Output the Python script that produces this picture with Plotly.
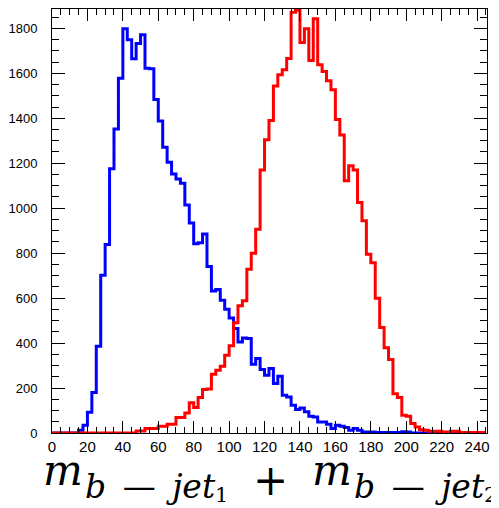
import plotly.graph_objects as go

# histogram binning: 98 bins of width 2.5 from 0 to 245
bin_width = 2.5
n_bins = 98

blue_counts = [
    0, 0, 0, 0, 0, 0, 12, 34, 92, 180,
    386, 702, 839, 1175, 1352, 1578, 1798, 1749, 1665, 1732,
    1772, 1622, 1620, 1484, 1388, 1271, 1204, 1152, 1130, 1111,
    1014, 934, 842, 846, 885, 741, 632, 638, 591, 550,
    512, 465, 405, 423, 420, 306, 331, 282, 257, 287,
    220, 252, 168, 160, 123, 104, 111, 94, 74, 71,
    49, 49, 39, 20, 34, 30, 24, 12, 20, 12,
    4, 4, 4, 2, 2, 2, 2, 2, 2, 6,
    4, 0, 0, 0, 0, 0, 0, 0, 0, 0,
    0, 0, 0, 0, 0, 0, 0, 0,
]

red_counts = [
    0, 0, 0, 0, 0, 0, 0, 0, 0, 0,
    0, 0, 0, 0, 0, 0, 0, 0, 0, 9,
    9, 20, 20, 20, 30, 30, 39, 39, 69, 69,
    89, 134, 113, 158, 193, 196, 261, 279, 297, 346,
    388, 490, 566, 588, 728, 799, 906, 1170, 1304, 1390,
    1544, 1593, 1616, 1666, 1872, 1880, 1737, 1798, 1657, 1843,
    1638, 1608, 1567, 1527, 1395, 1326, 1122, 1189, 1170, 1025,
    944, 795, 757, 599, 469, 379, 327, 175, 158, 79,
    74, 42, 27, 15, 12, 8, 8, 8, 4, 4,
    8, 8, 2, 2, 2, 2, 2, 2,
]

x_tick_vals = list(range(0, 241, 20))
y_tick_vals = list(range(0, 1801, 200))

edges = [i * bin_width for i in range(n_bins + 1)]


def step(counts):
    return edges, list(counts) + [counts[-1]]


fig = go.Figure()
for counts, color in [(blue_counts, "#0000ff"), (red_counts, "#ff0000")]:
    xs, ys = step(counts)
    fig.add_trace(go.Scatter(x=xs, y=ys, mode="lines", line_shape="hv",
                             line=dict(color=color, width=3), hoverinfo="skip"))

# the page body adds an 8 px margin, so the figure is drawn 8 px smaller
OFF = 8
W, H = 499 - OFF, 508 - OFF
L, T = 52 - OFF, 9 - OFF
R, B = 499 - 487, 508 - 433
pw, ph = W - L - R, H - T - B

xtickfont = dict(family="Liberation Sans, Arial, sans-serif", size=15, color="black")
ytickfont = dict(family="Liberation Sans, Arial, sans-serif", size=13, color="black")

fig.update_layout(
    width=W, height=H, showlegend=False,
    margin=dict(l=L, r=R, t=T, b=B, autoexpand=False),
    paper_bgcolor="white", plot_bgcolor="white",
    xaxis=dict(range=[0, 245.6], tickvals=x_tick_vals, ticks="inside", ticklen=12,
               tickwidth=1, tickcolor="black", showline=True, linecolor="black",
               linewidth=1, mirror="allticks", showgrid=False, zeroline=False,
               tickfont=xtickfont, automargin=False,
               minor=dict(dtick=5, ticks="inside", ticklen=6, tickwidth=1,
                          tickcolor="black", showgrid=False)),
    yaxis=dict(range=[0, 1886], tickvals=y_tick_vals, ticks="inside", ticklen=13,
               tickwidth=1, tickcolor="black", showline=True, linecolor="black",
               linewidth=1, mirror="allticks", showgrid=False, zeroline=False,
               tickfont=ytickfont, ticklabelstandoff=11, automargin=False,
               minor=dict(dtick=50, ticks="inside", ticklen=7, tickwidth=1,
                          tickcolor="black", showgrid=False)),
)


def px2paper(px, py):
    # px, py given in reference-window pixels
    fx, fy = px - OFF, py - OFF
    return (fx - L) / pw, (H - B - fy) / ph


serif = "DejaVu Serif, Liberation Serif, serif"
sp = "\u2002"
sub_txt = "<i>b" + sp + "</i>—<i>" + sp + "jet</i>"
pieces = [
    # text, left x px, center y px, size (reference-window pixels)
    ("<i>m</i>", 42, 470, 42),
    (sub_txt, 84, 486, 33),
    ("1", 214, 495, 21),
    ("+", 252, 480, 42),
    ("<i>m</i>", 311, 470, 42),
    (sub_txt, 353, 486, 33),
    ("2", 483, 495, 21),
]
for txt, x, y, s in pieces:
    ax_, ay_ = px2paper(x, y)
    fig.add_annotation(text=txt, x=ax_, y=ay_, xref="paper", yref="paper",
                       xanchor="left", yanchor="middle", showarrow=False,
                       borderpad=0,
                       font=dict(family=serif, size=s, color="black"))

fig.write_html("out.html")
